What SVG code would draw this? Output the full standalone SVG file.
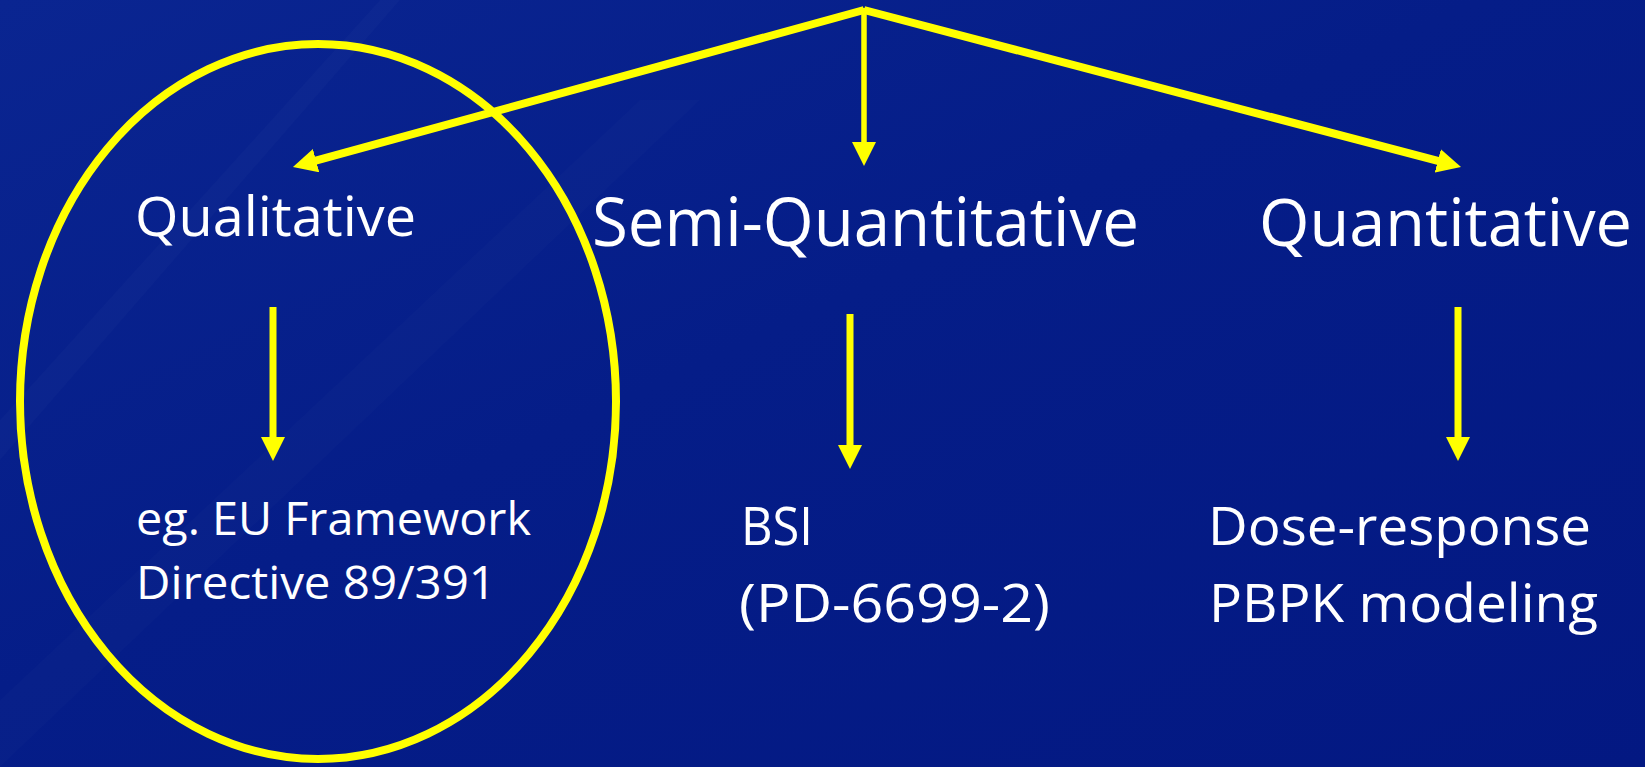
<svg xmlns="http://www.w3.org/2000/svg" width="1645" height="767" viewBox="0 0 1645 767">
<defs>
<linearGradient id="bg" x1="0" y1="0" x2="1" y2="1">
<stop offset="0" stop-color="#0a2591"/>
<stop offset="0.45" stop-color="#051d88"/>
<stop offset="1" stop-color="#031882"/>
</linearGradient>
<marker id="ah" viewBox="0 0 24 24" refX="6" refY="12" markerWidth="24" markerHeight="24" markerUnits="userSpaceOnUse" orient="auto">
<path d="M0,0 L24,12 L0,24 z" fill="#ffff00"/>
</marker>
<style>
.t{font-family:"Open Sans","Liberation Sans",sans-serif;fill:#ffffff}
.c{stroke:#ffff00;fill:none;marker-end:url(#ah)}
</style>
</defs>
<rect width="1645" height="767" fill="url(#bg)"/>
<polygon points="0,420 380,0 400,0 0,460" fill="#ffffff" opacity="0.018"/>
<polygon points="0,767 0,700 640,100 700,100" fill="#ffffff" opacity="0.015"/>
<g id="connectors">
<line class="c" x1="864" y1="10" x2="310.3" y2="162.2" stroke-width="8"/>
<line class="c" x1="864" y1="8" x2="864" y2="148" stroke-width="5.5"/>
<line class="c" x1="864" y1="10" x2="1443.6" y2="162.4" stroke-width="8"/>
<line class="c" x1="273" y1="307" x2="273" y2="443" stroke-width="7"/>
<line class="c" x1="850" y1="314" x2="850" y2="451" stroke-width="7"/>
<line class="c" x1="1458" y1="307" x2="1458" y2="443" stroke-width="7"/>
</g>
<g id="highlight">
<ellipse cx="318" cy="401.5" rx="298" ry="357.5" fill="none" stroke="#ffff00" stroke-width="8"/>
</g>
<g id="qualitative"><text class="t" x="135" y="236" font-size="55" textLength="281" lengthAdjust="spacingAndGlyphs">Qualitative</text></g>
<g id="semi-quantitative"><text class="t" x="592" y="246" font-size="67" textLength="547" lengthAdjust="spacingAndGlyphs">Semi-Quantitative</text></g>
<g id="quantitative"><text class="t" x="1259" y="246" font-size="66" textLength="373" lengthAdjust="spacingAndGlyphs">Quantitative</text></g>
<g id="eu-framework">
<text class="t" x="136" y="535" font-size="45" textLength="395" lengthAdjust="spacingAndGlyphs">eg. EU Framework</text>
<text class="t" x="136" y="599" font-size="45" textLength="360" lengthAdjust="spacingAndGlyphs">Directive 89/391</text>
</g>
<g id="bsi">
<text class="t" x="741" y="545" font-size="53" textLength="72" lengthAdjust="spacingAndGlyphs">BSI</text>
<text class="t" x="739" y="622" font-size="53" textLength="311" lengthAdjust="spacingAndGlyphs">(PD-6699-2)</text>
</g>
<g id="dose-response">
<text class="t" x="1208" y="545" font-size="53" textLength="383" lengthAdjust="spacingAndGlyphs">Dose-response</text>
<text class="t" x="1209" y="622" font-size="53" textLength="389" lengthAdjust="spacingAndGlyphs">PBPK modeling</text>
</g>
</svg>
